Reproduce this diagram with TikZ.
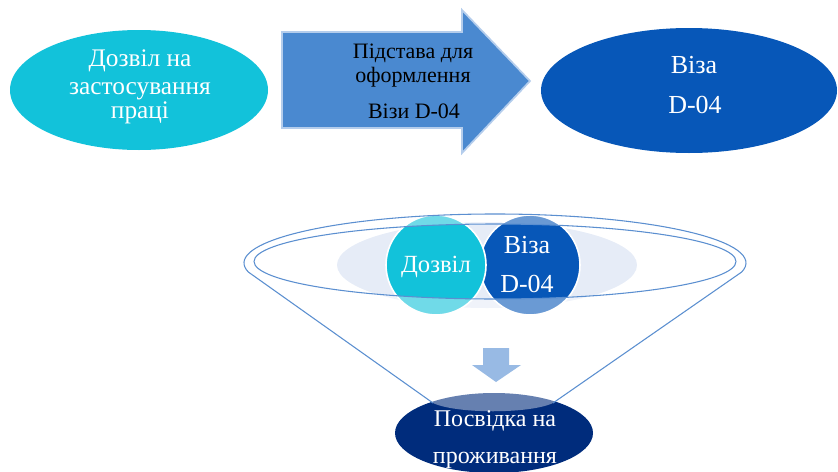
\documentclass[tikz,border=0pt]{standalone}
\usepackage{fontspec}
\setmainfont{Liberation Serif}
\usetikzlibrary{shapes.geometric}
\definecolor{cyanf}{HTML}{12C2DA}
\definecolor{bluef}{HTML}{0757B8}
\definecolor{navyf}{HTML}{002C7C}
\definecolor{arrowf}{HTML}{4A89D0}
\definecolor{arrowedge}{HTML}{B4CDEC}
\definecolor{lightbg}{HTML}{E6ECF7}
\definecolor{funline}{HTML}{5B8FD0}
\definecolor{downf}{HTML}{98BAE4}
\tikzset{
  ellbox/.style={ellipse, inner sep=0pt, draw=none},
  circbox/.style={circle, inner sep=0pt, minimum size=75pt, draw=white, line width=1.2pt},
  wtxt/.style={text=white, anchor=base, inner sep=0pt},
  btxt/.style={text=black, anchor=base, inner sep=0pt},
  funnelline/.style={draw=funline, line width=0.8pt}
}
\begin{document}
\begin{tikzpicture}[x=0.75pt,y=-0.75pt]
\useasboundingbox (0,0) rectangle (838,471);
% top row
\node[ellbox, fill=cyanf, minimum width=193.5pt, minimum height=90pt] (permit) at (139,90) {};
\node[wtxt, font=\fontsize{19}{21}\selectfont] (p1) at (140,66.5) {Дозвіл на};
\node[wtxt, font=\fontsize{19}{21}\selectfont] (p2) at (140,94) {застосування};
\node[wtxt, font=\fontsize{19}{21}\selectfont] (p3) at (140,118.5) {праці};

\fill[arrowf, draw=arrowedge, line width=1.3pt, line join=miter]
  (282,32) -- (462,32) -- (462,10) -- (530,81) -- (462,153) -- (462,128) -- (282,128) -- cycle;
\node[btxt, font=\fontsize{16.5}{18}\selectfont] (a1) at (413,58) {Підстава для};
\node[btxt, font=\fontsize{16.5}{18}\selectfont] (a2) at (413,82) {оформлення};
\node[btxt, font=\fontsize{16.5}{18}\selectfont] (a3) at (414,118) {Візи D-04};

\node[ellbox, fill=bluef, minimum width=222pt, minimum height=93.75pt] (visa) at (689,90.5) {};
\node[wtxt, font=\fontsize{19.5}{21}\selectfont] (v1) at (694,73) {Віза};
\node[wtxt, font=\fontsize{19.5}{21}\selectfont] (v2) at (695,113) {D-04};

% funnel content
\fill[lightbg] (487,265) ellipse [x radius=150, y radius=43];
\node[circbox, fill=bluef] (cvisa) at (530,265) {};
\node[circbox, fill=cyanf] (cperm) at (436,265) {};

% bottom ellipse
\node[ellbox, fill=navyf, minimum width=148.5pt, minimum height=60pt] (res) at (494,433) {};

% funnel overlay
\fill[white, fill opacity=0.4, even odd rule]
  (248.3,272) arc[start angle=169.4, end angle=370.6, x radius=251, y radius=49]
  -- (553,403) .. controls (530,414) and (456,414) .. (433,403) -- cycle
  (495,261.5) ellipse [x radius=241, y radius=37.5];
\draw[funnelline]
  (248.3,272) arc[start angle=169.4, end angle=370.6, x radius=251, y radius=49]
  -- (553,403) (433,403) -- (248.3,272);
\draw[funnelline] (495,261.5) ellipse [x radius=241, y radius=37.5];

\node[wtxt, font=\fontsize{18.5}{20}\selectfont] (c1) at (436,272) {Дозвіл};
\node[wtxt, font=\fontsize{19.5}{21}\selectfont] (c2) at (527,253) {Віза};
\node[wtxt, font=\fontsize{19.5}{21}\selectfont] (c3) at (527,292) {D-04};

% down arrow
\fill[downf] (483,348) -- (509,348) -- (509,365) -- (521,365) -- (496,382) -- (472,365) -- (483,365) -- cycle;

\node[wtxt, font=\fontsize{18}{20}\selectfont] (r1) at (495,426) {Посвідка на};
\node[wtxt, font=\fontsize{18}{20}\selectfont] (r2) at (495,463) {проживання};
\end{tikzpicture}
\end{document}
